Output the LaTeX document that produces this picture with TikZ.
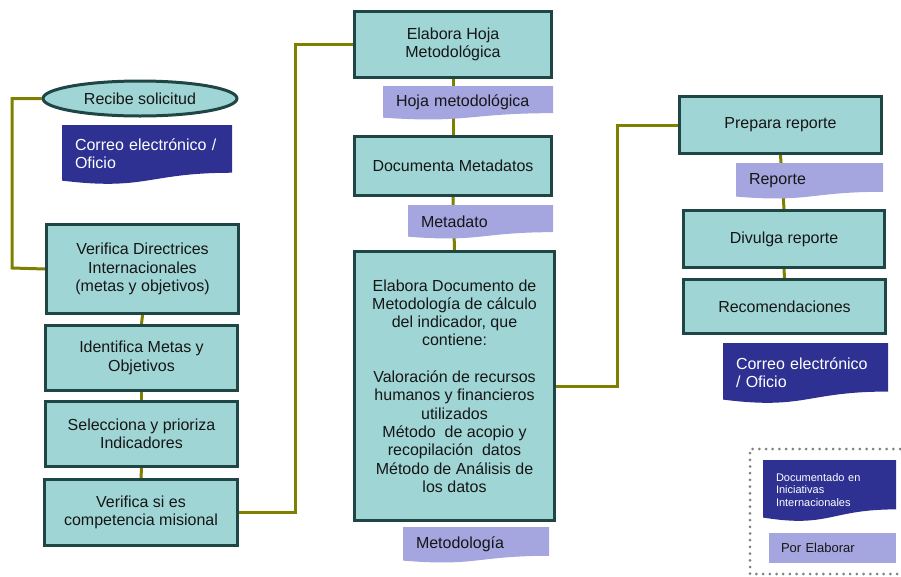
\documentclass[tikz,border=0pt]{standalone}
\usepackage{fontspec}
\setmainfont{Liberation Sans}
\usetikzlibrary{calc,shapes.geometric}
\definecolor{boxfill}{HTML}{A0D5D6}
\definecolor{boxline}{HTML}{1F4545}
\definecolor{conncol}{HTML}{808000}
\definecolor{docdark}{HTML}{2E3192}
\definecolor{doclight}{HTML}{A5A5E0}
\definecolor{dotgray}{HTML}{808080}
\definecolor{txt}{HTML}{161616}
\pgfdeclarelayer{back}
\pgfsetlayers{back,main}
\begin{document}
\begin{tikzpicture}[x=1pt,y=-1pt,
  mainfont/.style={font=\fontsize{16}{18.3}\selectfont},
  procbox/.style={mainfont, draw=boxline, line width=3pt, fill=boxfill, rectangle,
    align=center, inner sep=2pt, text=txt},
  docwave/.style={path picture={
    \fill[#1] let \p1=(path picture bounding box.north west),
                  \p2=(path picture bounding box.south east),
                  \n1={\y1-\y2} in
      (\x1,\y1) -- (\x2,\y1) -- (\x2,\y1-0.823*\n1)
      .. controls ({0.5*\x1+0.5*\x2},\y1-0.823*\n1) and ({0.5*\x1+0.5*\x2},\y1-1.137*\n1) .. (\x1,\y1-0.959*\n1)
      -- cycle;}},
  docdarknode/.style={mainfont, docwave=docdark, inner xsep=13pt, inner ysep=0pt,
    align=left, text=white},
  doclightnode/.style={mainfont, docwave=doclight, inner xsep=13pt, inner ysep=0pt,
    align=left, text=txt},
  conn/.style={draw=conncol, line width=3pt}
]
\useasboundingbox (0,0) rectangle (901,576);

% left column
\node[ellipse, draw=boxline, line width=3pt, fill=boxfill, mainfont, text=txt,
      minimum width=194pt, minimum height=35pt, inner sep=0pt] (e) at (140,98.5) {Recibe solicitud};
\node[docdarknode, text width=144pt, minimum height=58pt] (dA) at (147,154)
  {Correo electrónico /\\Oficio\\[4pt]};
\node[procbox, minimum width=192pt, minimum height=89pt] (b1) at (142.5,269)
  {Verifica Directrices\\Internacionales\\(metas y objetivos)};
\node[procbox, minimum width=192pt, minimum height=65pt] (b2) at (141.5,358)
  {Identifica Metas y\\Objetivos};
\node[procbox, minimum width=192pt, minimum height=65pt] (b3) at (141.5,434)
  {Selecciona y prioriza\\Indicadores};
\node[procbox, minimum width=193pt, minimum height=66pt] (b4) at (141,512.5)
  {Verifica si es\\competencia misional};

% middle column
\node[procbox, minimum width=197pt, minimum height=66pt] (b5) at (453,44.5)
  {Elabora Hoja\\Metodológica};
\node[doclightnode, text width=144pt, minimum height=33pt] (dB) at (468,102.5)
  {Hoja metodológica};
\node[procbox, minimum width=197pt, minimum height=59pt] (b6) at (453,166)
  {Documenta Metadatos};
\node[doclightnode, text width=119pt, minimum height=33pt] (dC) at (480.5,221.5)
  {Metadato};
\node[procbox, minimum width=200pt, minimum height=269pt] (b7) at (454.5,386)
  {Elabora Documento de\\Metodología de cálculo\\del indicador, que\\contiene:\\[18.3pt]
   Valoración de recursos\\humanos y financieros\\utilizados\\Método\ \ de acopio y\\
   recopilación\ \ datos\\Método de Análisis de\\los datos};
\node[doclightnode, text width=120pt, minimum height=35pt] (dD) at (476,544.5)
  {Metodología};

% right column
\node[procbox, minimum width=202pt, minimum height=57pt] (b8) at (780.5,125)
  {Prepara reporte};
\node[doclightnode, text width=121pt, minimum height=35pt] (dE) at (809.5,180.5)
  {Reporte};
\node[procbox, minimum width=201pt, minimum height=57pt] (b9) at (784,239)
  {Divulga reporte};
\node[procbox, minimum width=202pt, minimum height=54pt] (b10) at (784.5,306.5)
  {Recomendaciones};
\node[docdarknode, text width=139pt, minimum height=59pt] (dF) at (805.5,372.5)
  {Correo electrónico\\/ Oficio\\[4pt]};

% legend
\draw[dotgray, line width=3pt, line cap=round, dash pattern=on 0pt off 6.7pt]
  (900,449) -- (750,449) -- (750,574) -- (900,574);
\node[docwave=docdark, font=\fontsize{11}{12.5}\selectfont, text=white, align=left,
      inner xsep=13pt, inner ysep=0pt, text width=107pt, minimum height=60pt] (dG) at (829.5,490)
  {Documentado en\\Iniciativas\\Internacionales\\[5pt]};
\node[fill=doclight, font=\fontsize{13}{15}\selectfont, text=txt, align=left,
      inner xsep=12pt, inner ysep=0pt, text width=103pt, minimum height=30pt] (dH) at (832.5,548)
  {Por Elaborar};

% connectors
\begin{pgfonlayer}{back}
\draw[conn] (e.west) -| (12,268) -- (b1.west);
\draw[conn] (b1.south) -- (b2.north);
\draw[conn] (b2.south) -- (b3.north);
\draw[conn] (b3.south) -- (b4.north);
\draw[conn] (b4.east) -| (295,44.5) -- (b5.west);
\draw[conn] (b5.south) -- (b6.north);
\draw[conn] (b6.south) -- (b7.north);
\draw[conn] (b7.east) -| (617,125) -- (b8.west);
\draw[conn] (b8.south) -- (b9.north);
\draw[conn] (b9.south) -- (b10.north);
\end{pgfonlayer}
\end{tikzpicture}
\end{document}
